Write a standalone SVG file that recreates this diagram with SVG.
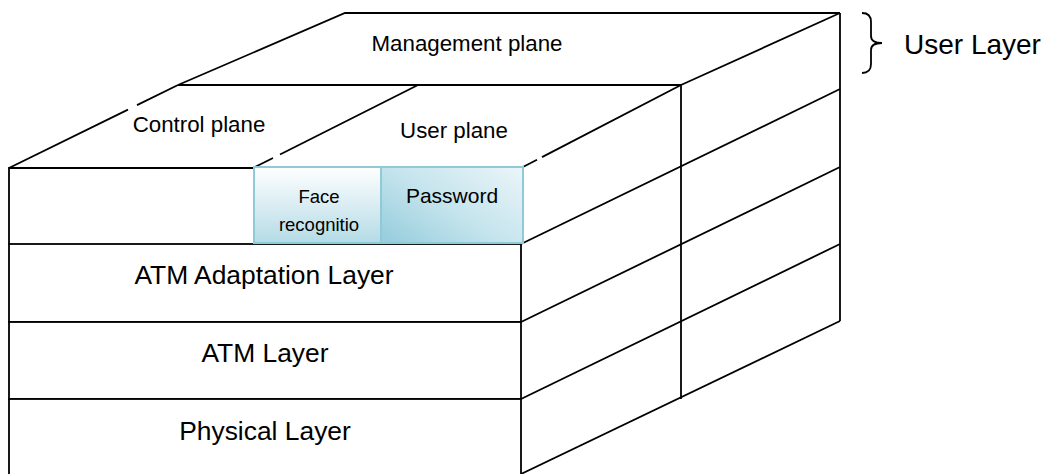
<svg xmlns="http://www.w3.org/2000/svg" width="1049" height="474" viewBox="0 0 1049 474">
  <style>
    .ln{fill:none;stroke:#000;stroke-width:1.8;stroke-linejoin:miter}
    .cell{fill:#fff;stroke:#000;stroke-width:1.8}
    .blue{stroke:#8FCAD9;stroke-width:2}
    .t{font-family:"Liberation Sans",Arial,sans-serif;fill:#000;text-anchor:middle}
  </style>
  <defs>
    <linearGradient id="gFace" x1="0" y1="0" x2="0" y2="1">
      <stop offset="0" stop-color="#FFFFFF"/>
      <stop offset="1" stop-color="#B4DBE6"/>
    </linearGradient>
    <linearGradient id="gPw" x1="0" y1="0.9" x2="1" y2="0.1">
      <stop offset="0" stop-color="#98CEDD"/>
      <stop offset="0.45" stop-color="#C3E3EC"/>
      <stop offset="1" stop-color="#E8F4F8"/>
    </linearGradient>
  </defs>
  <rect width="1049" height="474" fill="#fff"/>

  <!-- Top face: management plane -->
  <g id="management-plane">
    <polyline class="ln" points="178,85 345,13 840,13"/>
    <line class="ln" x1="178" y1="85" x2="681" y2="85"/>
    <line class="ln" x1="681" y1="85" x2="840" y2="13"/>
    <text class="t" x="467" y="51" font-size="22.3">Management plane</text>
  </g>

  <!-- Top face: control plane -->
  <g id="control-plane">
    <line class="ln" x1="9" y1="168" x2="128" y2="109.6"/>
    <line class="ln" x1="137" y1="105.1" x2="178" y2="85"/>
    <text class="t" x="199" y="132" font-size="22.3">Control plane</text>
  </g>

  <!-- Top face: user plane -->
  <g id="user-plane">
    <line class="ln" x1="253" y1="168" x2="273" y2="158"/>
    <line class="ln" x1="280" y1="154.5" x2="418" y2="85"/>
    <line class="ln" x1="521" y1="168" x2="537" y2="159.7"/>
    <line class="ln" x1="542" y1="157.1" x2="681" y2="85"/>
    <text class="t" x="454" y="138" font-size="22.3">User plane</text>
  </g>

  <!-- Right face grid -->
  <g id="side-face">
    <line class="ln" x1="681" y1="85" x2="681" y2="399"/>
    <line class="ln" x1="840" y1="13" x2="840" y2="321"/>
    <line class="ln" x1="521" y1="244" x2="840" y2="89"/>
    <line class="ln" x1="521" y1="322" x2="840" y2="167"/>
    <line class="ln" x1="521" y1="399" x2="840" y2="244"/>
    <line class="ln" x1="521" y1="474" x2="840" y2="321"/>
  </g>

  <!-- Front face -->
  <g id="front-top-cell">
    <polyline class="ln" points="253,168 9,168 9,244"/>
  </g>
  <g id="atm-adaptation-layer">
    <rect class="cell" x="9" y="244" width="512" height="78"/>
    <text class="t" x="264" y="284" font-size="26.4">ATM Adaptation Layer</text>
  </g>
  <g id="atm-layer">
    <rect class="cell" x="9" y="322" width="512" height="77"/>
    <text class="t" x="265" y="362" font-size="26.4">ATM Layer</text>
  </g>
  <g id="physical-layer">
    <rect class="cell" x="9" y="399" width="512" height="78"/>
    <text class="t" x="265" y="440" font-size="26.4">Physical Layer</text>
  </g>

  <g id="face-recognition">
    <rect class="blue" x="254" y="167" width="127" height="76" fill="url(#gFace)"/>
    <text class="t" x="319" y="203" font-size="18.5">Face</text>
    <text class="t" x="319" y="231" font-size="18.5">recognitio</text>
  </g>
  <g id="password">
    <rect class="blue" x="381" y="167" width="142" height="76" fill="url(#gPw)"/>
    <text class="t" x="452" y="203" font-size="21">Password</text>
  </g>

  <!-- Bracket and label -->
  <g id="user-layer">
    <path class="ln" stroke-width="1.6" d="M862,13 Q871,13 871,22 L871,36 Q871,43 882,43 Q871,43 871,50 L871,64 Q871,73 862,73"/>
    <text class="t" x="904" y="54" font-size="28" style="text-anchor:start">User Layer</text>
  </g>
</svg>
